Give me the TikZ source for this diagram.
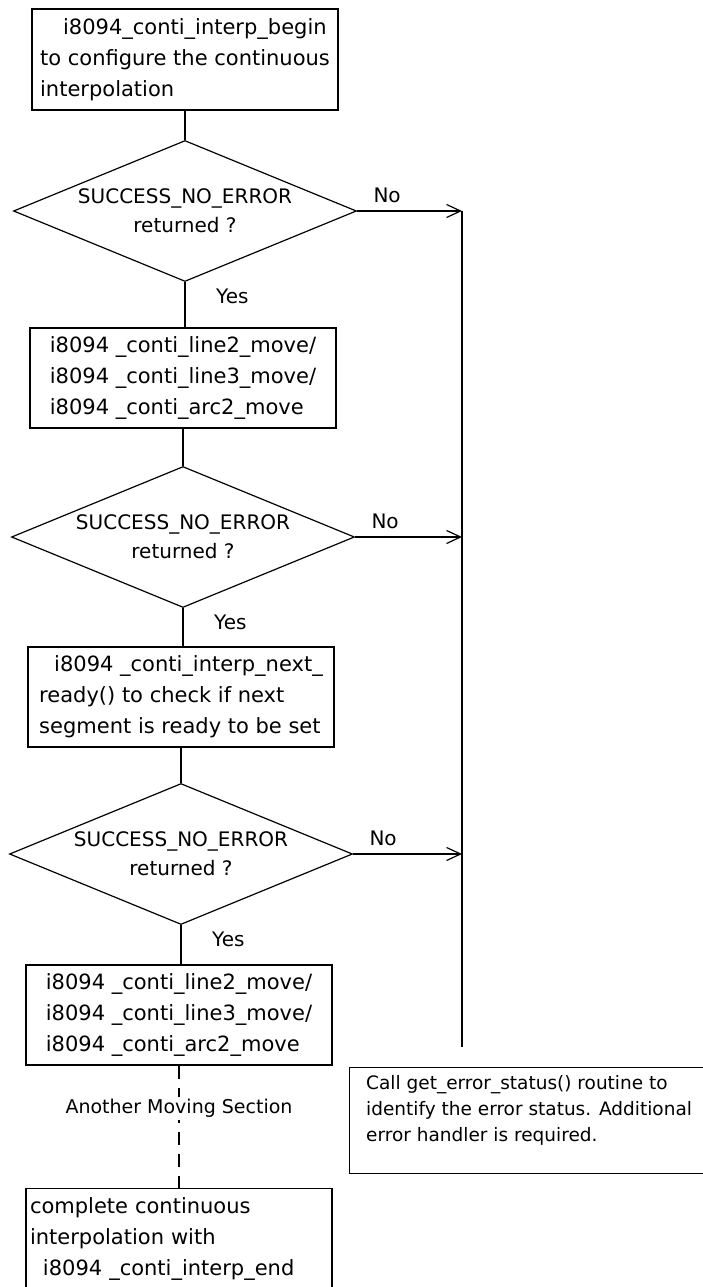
\documentclass[tikz,border=0pt]{standalone}
\usepackage{fontspec}
\setmainfont{DejaVu Sans}
\usetikzlibrary{shapes.geometric,arrows.meta}

\tikzset{
  stepbox/.style={draw, line width=1.2pt, minimum width=306pt, minimum height=100pt,
    inner sep=0pt, align=left, font=\fontsize{21}{31}\selectfont},
  decision/.style={draw, diamond, line width=1.2pt, aspect=2.43, minimum width=343pt,
    minimum height=141pt, inner sep=0pt, align=center, font=\fontsize{20}{29}\selectfont},
  errorbox/.style={draw, line width=1.2pt, anchor=north west, minimum width=359pt,
    minimum height=106pt, inner sep=0pt, align=left,
    font=\fontsize{18.5}{26}\selectfont},
  lbl/.style={inner sep=0pt, font=\fontsize{20}{24}\selectfont},
  flow/.style={line width=1.2pt},
  noflow/.style={line width=1.2pt, -{Straight Barb[length=14pt,width=13pt,line width=1.2pt]}}
}

\begin{document}
\begin{tikzpicture}[x=1pt,y=-1pt]
\useasboundingbox (0,0) rectangle (703,1287);
\clip (0,0) rectangle (703,1287);

% main column
\node[stepbox, minimum height=101pt] (begin) at (185,59.5)
  {\hspace*{23pt}i8094\_conti\_interp\_begin\\to configure the continuous\\interpolation};
\node[decision] (chk1) at (185,211) {SUCCESS\_NO\_ERROR\\returned ?};
\node[stepbox] (move1) at (183,378)
  {i8094 \_conti\_line2\_move/\\i8094 \_conti\_line3\_move/\\i8094 \_conti\_arc2\_move};
\node[decision] (chk2) at (183,537) {SUCCESS\_NO\_ERROR\\returned ?};
\node[stepbox] (ready) at (181,697)
  {\hspace*{15pt}i8094 \_conti\_interp\_next\_\\ready() to check if next\\segment is ready to be set};
\node[decision] (chk3) at (181,854) {SUCCESS\_NO\_ERROR\\returned ?};
\node[stepbox] (move2) at (179,1015)
  {i8094 \_conti\_line2\_move/\\i8094 \_conti\_line3\_move/\\i8094 \_conti\_arc2\_move};
\node[stepbox, minimum height=0pt, text width=298pt, inner xsep=3pt, inner ysep=9pt,
  anchor=north] (finish) at (179,1188)
  {complete continuous\\interpolation with\\\hspace*{13pt}i8094 \_conti\_interp\_end\\\strut};

% error branch
\node[errorbox] (errbox) at (349,1067)
  {Call get\_error\_status() routine to\\identify the error status. Additional\\error handler is required.\\[-10pt]\strut};
\coordinate (errtop) at (462,211);
\coordinate (errbot) at (462,1047);

\draw[flow] (begin.south) -- (begin.south |- chk1.north);
\draw[flow] (chk1.south) -- (chk1.south |- move1.north);
\draw[flow] (move1.south) -- (move1.south |- chk2.north);
\draw[flow] (chk2.south) -- (chk2.south |- ready.north);
\draw[flow] (ready.south) -- (ready.south |- chk3.north);
\draw[flow] (chk3.south) -- (chk3.south |- move2.north);
\draw[flow, dash pattern=on 13pt off 9pt] (move2.south) --
  node[pos=0.35, fill=white, inner sep=2pt, font=\fontsize{19}{23}\selectfont] (moving)
  {Another Moving Section} (move2.south |- finish.north);

\draw[flow] (errtop) -- (errbot);
\draw[noflow] (chk1.east) -- (chk1.east -| errtop);
\draw[noflow] (chk2.east) -- (chk2.east -| errtop);
\draw[noflow] (chk3.east) -- (chk3.east -| errtop);

% branch labels
\node[lbl] (no1) at ([xshift=30pt,yshift=16pt]chk1.east) {No};
\node[lbl] (no2) at ([xshift=30pt,yshift=16pt]chk2.east) {No};
\node[lbl] (no3) at ([xshift=30pt,yshift=16pt]chk3.east) {No};
\node[lbl, anchor=west] (yes1) at ([xshift=31pt,yshift=-14pt]chk1.south) {Yes};
\node[lbl, anchor=west] (yes2) at ([xshift=31pt,yshift=-14pt]chk2.south) {Yes};
\node[lbl, anchor=west] (yes3) at ([xshift=31pt,yshift=-14pt]chk3.south) {Yes};
\end{tikzpicture}
\end{document}
